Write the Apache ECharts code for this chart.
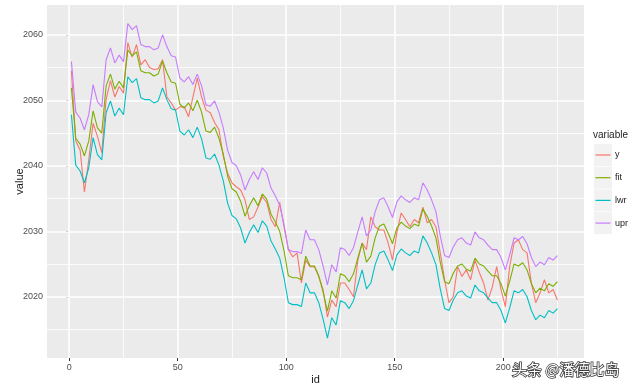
<!DOCTYPE html>
<html><head><meta charset="utf-8">
<script src="https://cdn.jsdelivr.net/npm/echarts@6/dist/echarts.min.js"></script>
<style>html,body{margin:0;padding:0;background:#fff}#c{width:640px;height:387px}</style>
</head><body><div id="c"></div>
<script>
const ids = [1,3,5,7,9,11,13,15,17,19,21,23,25,27,29,31,33,35,37,39,41,43,45,47,49,51,53,55,57,59,61,63,65,67,69,71,73,75,77,79,81,83,85,87,89,91,93,95,97,99,101,103,105,107,109,111,113,115,117,119,121,123,125,127,129,131,133,135,137,139,141,143,145,147,149,151,153,155,157,159,161,163,165,167,169,171,173,175,177,179,181,183,185,187,189,191,193,195,197,199,201,203,205,207,209,211,213,215,217,219,221,223,225];
const yVals = [2054.5,2043.8,2042.4,2036.0,2040.9,2046.5,2044.5,2042.0,2050.1,2053.0,
2050.5,2052.1,2051.1,2058.8,2056.6,2058.5,2055.4,2056.2,2055.0,2054.7,
2054.8,2056.2,2050.5,2049.6,2048.5,2049.0,2049.0,2047.5,2050.5,2053.4,
2050.5,2048.5,2048.1,2046.6,2045.5,2041.4,2038.9,2037.4,2036.8,2036.3,
2034.8,2031.8,2032.2,2033.7,2035.3,2034.4,2031.8,2030.7,2034.4,2030.7,
2027.2,2026.1,2026.7,2022.1,2025.6,2024.6,2024.6,2023.1,2021.1,2016.9,
2019.5,2018.5,2022.1,2022.1,2021.1,2020.0,2025.6,2028.2,2027.2,2032.2,
2030.7,2030.2,2030.2,2028.2,2025.6,2029.8,2032.8,2031.8,2030.7,2031.8,
2031.3,2033.7,2031.3,2031.8,2030.7,2026.7,2022.6,2019.1,2020.0,2024.6,
2023.1,2024.1,2022.6,2025.6,2023.7,2022.1,2019.5,2021.5,2024.6,2021.1,
2018.5,2024.6,2028.2,2028.7,2027.2,2026.7,2022.1,2019.1,2020.6,2022.6,
2020.6,2021.1,2019.5];
const fitVals = [2051.9,2044.2,2043.3,2041.5,2043.8,2048.4,2045.8,2045.0,2052.2,2054.0,
2051.7,2052.9,2051.9,2057.7,2056.8,2057.4,2054.5,2054.2,2054.2,2053.7,
2054.0,2056.0,2054.2,2052.8,2052.6,2049.4,2048.8,2049.6,2048.4,2050.0,
2048.2,2045.3,2045.1,2045.9,2044.2,2041.8,2038.4,2036.5,2036.0,2034.6,
2032.3,2033.9,2035.1,2033.9,2035.7,2034.9,2032.6,2031.4,2030.0,2027.0,
2023.2,2022.9,2022.9,2022.6,2026.2,2024.7,2024.7,2023.2,2020.7,2017.8,
2020.9,2019.8,2023.5,2023.2,2022.3,2023.5,2025.9,2028.2,2025.3,2026.2,
2029.0,2030.8,2031.1,2029.7,2028.1,2030.5,2031.4,2030.8,2030.4,2031.1,
2030.8,2033.4,2032.3,2030.8,2029.0,2025.3,2022.3,2022.0,2023.6,2024.7,
2025.0,2024.2,2023.9,2025.9,2025.0,2024.7,2023.9,2023.2,2023.2,2022.0,
2020.1,2022.4,2025.0,2024.7,2025.2,2024.1,2022.0,2020.6,2021.3,2020.9,
2022.0,2021.6,2022.3];
const lwrVals = [2047.8,2040.1,2039.2,2037.4,2039.7,2044.3,2041.7,2040.9,2048.1,2049.9,
2047.6,2048.8,2047.8,2053.6,2052.7,2053.3,2050.4,2050.1,2050.1,2049.6,
2049.9,2051.9,2050.1,2048.7,2048.5,2045.3,2044.7,2045.5,2044.3,2045.9,
2044.1,2041.2,2041.0,2041.8,2040.1,2037.7,2034.3,2032.4,2031.9,2030.5,
2028.2,2029.8,2031.0,2029.8,2031.6,2030.8,2028.5,2027.3,2025.9,2022.9,
2019.1,2018.8,2018.8,2018.5,2022.1,2020.6,2020.6,2019.1,2016.6,2013.7,
2016.8,2015.7,2019.4,2019.1,2018.2,2019.4,2021.8,2024.1,2021.2,2022.1,
2024.9,2026.7,2027.0,2025.6,2024.0,2026.4,2027.3,2026.7,2026.3,2027.0,
2026.7,2029.3,2028.2,2026.7,2024.9,2021.2,2018.2,2017.9,2019.5,2020.6,
2020.9,2020.1,2019.8,2021.8,2020.9,2020.6,2019.8,2019.1,2019.1,2017.9,
2016.0,2018.3,2020.9,2020.6,2021.1,2020.0,2017.9,2016.5,2017.2,2016.8,
2017.9,2017.5,2018.2];
const uprVals = [2055.9,2048.2,2047.3,2045.5,2047.8,2052.4,2049.8,2049.0,2056.2,2058.0,
2055.7,2056.9,2055.9,2061.7,2060.8,2061.4,2058.5,2058.2,2058.2,2057.7,
2058.0,2060.0,2058.2,2056.8,2056.6,2053.4,2052.8,2053.6,2052.4,2054.0,
2052.2,2049.3,2049.1,2049.9,2048.2,2045.8,2042.4,2040.5,2040.0,2038.6,
2036.3,2037.9,2039.1,2037.9,2039.7,2038.9,2036.6,2035.4,2034.0,2031.0,
2027.2,2026.9,2026.9,2026.6,2030.2,2028.7,2028.7,2027.2,2024.7,2021.8,
2024.9,2023.8,2027.5,2027.2,2026.3,2027.5,2029.9,2032.2,2029.3,2030.2,
2033.0,2034.8,2035.1,2033.7,2032.1,2034.5,2035.4,2034.8,2034.4,2035.1,
2034.8,2037.4,2036.3,2034.8,2033.0,2029.3,2026.3,2026.0,2027.6,2028.7,
2029.0,2028.2,2027.9,2029.9,2029.0,2028.7,2027.9,2027.2,2027.2,2026.0,
2024.1,2026.4,2029.0,2028.7,2029.2,2028.1,2026.0,2024.6,2025.3,2024.9,
2026.0,2025.6,2026.3];
const seriesNames = ['y','fit','lwr','upr'];
const seriesColors = ['#F8766D','#7CAE00','#00BFC4','#C77CFF'];
const xMajor = [0,50,100,150,200];
const xMinor = [25,75,125,175,225];
const yMajor = [2020,2030,2040,2050,2060];
const yMinor = [2015,2025,2035,2045,2055];
// ------------------------------------------------------------

const allVals = [yVals, fitVals, lwrVals, uprVals];
const pairs = v => ids.map((id, i) => [id, v[i]]);

const chart = echarts.init(document.getElementById('c'), null, {renderer: 'canvas'});

const gridLines = [];
yMinor.forEach(v => gridLines.push({yAxis: v, lineStyle: {width: 0.8}}));
xMinor.forEach(v => gridLines.push({xAxis: v, lineStyle: {width: 0.8}}));
yMajor.forEach(v => gridLines.push({yAxis: v, lineStyle: {width: 1.6}}));
xMajor.forEach(v => gridLines.push({xAxis: v, lineStyle: {width: 1.6}}));

const series = [{
  type: 'line', name: '_grid', data: [], z: 1, silent: true,
  markLine: {silent: true, z: 1, symbol: ['none','none'], animation: false,
    label: {show: false}, lineStyle: {color: '#ffffff', type: 'solid'},
    emphasis: {disabled: true}, data: gridLines}
}];
seriesNames.forEach((n, k) => series.push({
  type: 'line', name: n, data: pairs(allVals[k]), showSymbol: false, symbol: 'none',
  z: 3 + k, lineStyle: {color: seriesColors[k], width: 1.1}, itemStyle: {color: seriesColors[k]},
  animation: false, silent: true
}));

const legendGraphics = [
  {type: 'text', left: 593, top: 130, style: {text: 'variable', fontSize: 10, fill: '#222', fontFamily: 'Liberation Sans, Arial'}}
];
seriesNames.forEach((n, k) => {
  const top = 144 + k * 22.7;
  legendGraphics.push({type: 'rect', shape: {x: 594, y: top, width: 18, height: 22}, style: {fill: '#F2F2F2'}});
  legendGraphics.push({type: 'line', shape: {x1: 595.5, y1: top + 11, x2: 610.5, y2: top + 11}, style: {stroke: seriesColors[k], lineWidth: 1.2}});
  legendGraphics.push({type: 'text', x: 615, y: top + 11, style: {text: n, fontSize: 9, fill: '#222', verticalAlign: 'middle', fontFamily: 'Liberation Sans, Arial'}});
});
legendGraphics.push({type: 'text', x: 512, y: 369, z: 100,
  style: {text: '头条 @潘德比岛', fontSize: 15, fill: '#ffffff', stroke: '#3a3a3a', lineWidth: 1.6,
    verticalAlign: 'middle', fontFamily: 'Noto Sans CJK SC'}});

chart.setOption({
  animation: false,
  backgroundColor: '#ffffff',
  grid: {left: 47, top: 5, right: 56, bottom: 29, show: true, backgroundColor: '#EBEBEB', borderWidth: 0,
    containLabel: false, outerBoundsMode: 'none'},
  xAxis: {
    type: 'value', min: -10.25, max: 237.25, name: 'id', nameLocation: 'middle', nameGap: 16,
    nameMoveOverlap: false,
    nameTextStyle: {fontSize: 11, color: '#1a1a1a', fontFamily: 'Liberation Sans, Arial'},
    axisLine: {show: false},
    axisTick: {show: true, length: 3, lineStyle: {color: '#333'}, customValues: xMajor},
    axisLabel: {fontSize: 9, color: '#4D4D4D', margin: 5, customValues: xMajor, formatter: v => String(v), fontFamily: 'Liberation Sans, Arial'},
    splitLine: {show: false}
  },
  yAxis: {
    type: 'value', min: 2010.65, max: 2064.55, name: 'value', nameLocation: 'middle', nameGap: 22,
    nameMoveOverlap: false,
    nameTextStyle: {fontSize: 11, color: '#1a1a1a', fontFamily: 'Liberation Sans, Arial'},
    axisLine: {show: false},
    axisTick: {show: true, length: 3, lineStyle: {color: '#333'}, customValues: yMajor},
    axisLabel: {fontSize: 9, color: '#4D4D4D', margin: 4, customValues: yMajor, formatter: v => String(v), fontFamily: 'Liberation Sans, Arial'},
    splitLine: {show: false}
  },
  graphic: legendGraphics,
  series: series
});
</script></body></html>
